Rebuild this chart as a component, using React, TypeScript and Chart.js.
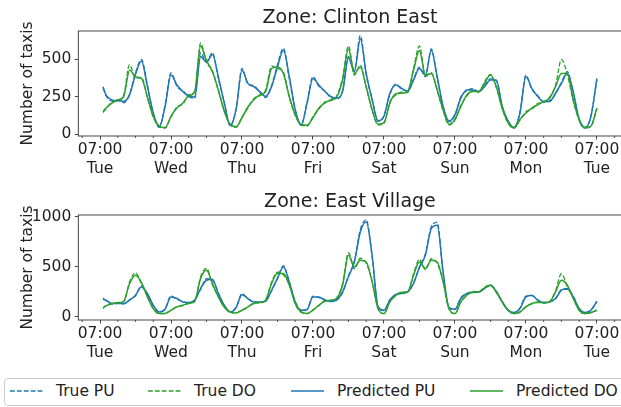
import React, { useEffect, useRef } from "react";
import { Chart, registerables } from "chart.js";

Chart.register(...registerables);

// hours after Tue 07:00
const hours = [1, 2, 4, 6, 8, 10, 12, 14, 16, 18, 20, 22, 24, 26, 28, 30, 32, 34, 36, 38, 40, 42, 44, 46, 48, 50, 52, 54, 56, 58, 60, 62, 64, 66, 68, 70, 72, 74, 76, 78, 80, 82, 84, 86, 88, 90, 92, 94, 96, 98, 100, 102, 104, 106, 108, 110, 112, 114, 116, 118, 120, 122, 124, 126, 128, 130, 132, 134, 136, 138, 140, 142, 144, 146, 148, 150, 152, 154, 156, 158, 160, 162, 164, 166, 168];

const dayLabels = ["Tue", "Wed", "Thu", "Fri", "Sat", "Sun", "Mon", "Tue"];
const majorHours = [0, 24, 48, 72, 96, 120, 144, 168];
const minorHours = [-6, 6, 12, 18, 30, 36, 42, 54, 60, 66, 78, 84, 90, 102, 108, 114, 126, 132, 138, 150, 156, 162, 174];

// Zone: Clinton East
const clintonTruePU = [310, 258, 222, 228, 210, 270, 410, 500, 330, 135, 45, 195, 410, 320, 290, 250, 240, 545, 485, 545, 370, 215, 55, 170, 440, 335, 325, 280, 245, 325, 465, 575, 370, 160, 58, 215, 385, 320, 290, 245, 236, 290, 520, 430, 660, 395, 235, 85, 125, 265, 335, 300, 292, 370, 448, 385, 570, 375, 180, 82, 125, 250, 290, 305, 280, 325, 370, 355, 180, 85, 40, 150, 395, 300, 258, 215, 224, 268, 345, 418, 275, 95, 40, 125, 365];
const clintonTrueDO = [145, 168, 215, 222, 260, 465, 375, 380, 245, 115, 52, 40, 115, 182, 200, 265, 278, 610, 480, 425, 290, 160, 62, 46, 115, 175, 238, 258, 295, 455, 440, 415, 245, 125, 62, 55, 118, 168, 215, 225, 255, 375, 590, 395, 462, 310, 160, 62, 72, 215, 262, 282, 278, 440, 590, 385, 412, 290, 158, 62, 95, 192, 255, 290, 280, 350, 400, 310, 170, 72, 40, 95, 150, 168, 205, 212, 248, 325, 500, 400, 222, 95, 40, 52, 168];
const clintonPredPU = [318, 263, 230, 223, 220, 263, 400, 489, 320, 142, 50, 186, 395, 329, 285, 256, 248, 520, 480, 533, 384, 208, 60, 164, 428, 340, 318, 285, 252, 318, 450, 559, 384, 164, 62, 208, 373, 329, 285, 252, 241, 285, 510, 420, 636, 406, 230, 90, 120, 274, 329, 307, 285, 362, 439, 395, 559, 384, 186, 88, 131, 241, 296, 296, 285, 318, 362, 362, 186, 88, 44, 142, 384, 307, 252, 219, 219, 274, 340, 406, 285, 99, 44, 120, 373];
const clintonPredDO = [153, 175, 208, 230, 252, 430, 384, 373, 252, 120, 55, 44, 120, 175, 208, 256, 285, 590, 493, 417, 296, 153, 66, 50, 110, 182, 230, 263, 285, 439, 450, 406, 252, 131, 66, 60, 110, 175, 208, 230, 248, 362, 570, 406, 450, 318, 164, 66, 77, 208, 270, 274, 285, 428, 559, 395, 406, 296, 164, 66, 99, 186, 263, 285, 285, 340, 395, 318, 175, 77, 44, 99, 142, 175, 197, 219, 241, 318, 406, 406, 230, 99, 44, 55, 175];

// Zone: East Village
const villageTruePU = [185, 160, 128, 135, 128, 170, 210, 310, 225, 110, 45, 80, 210, 175, 152, 138, 170, 275, 380, 365, 240, 110, 45, 95, 232, 178, 152, 145, 160, 258, 390, 510, 340, 152, 62, 75, 205, 192, 170, 150, 170, 240, 410, 560, 870, 970, 600, 95, 62, 172, 215, 238, 245, 340, 490, 630, 900, 945, 430, 88, 72, 190, 228, 248, 245, 290, 310, 255, 142, 62, 40, 88, 205, 210, 170, 138, 152, 178, 272, 275, 205, 78, 40, 70, 150];
const villageTrueDO = [82, 112, 128, 142, 150, 350, 440, 330, 205, 78, 30, 35, 62, 102, 112, 138, 150, 400, 485, 320, 205, 95, 45, 36, 68, 95, 138, 138, 170, 345, 445, 420, 322, 128, 45, 30, 68, 110, 160, 160, 188, 330, 640, 480, 585, 535, 355, 78, 30, 152, 210, 250, 242, 430, 575, 470, 580, 535, 355, 78, 30, 152, 210, 255, 242, 295, 320, 242, 152, 62, 30, 45, 102, 128, 148, 138, 152, 260, 430, 300, 190, 62, 30, 40, 62];
const villagePredPU = [175, 165, 132, 132, 132, 165, 215, 298, 232, 115, 48, 75, 198, 182, 148, 142, 165, 282, 365, 375, 232, 115, 48, 90, 220, 182, 148, 148, 155, 265, 382, 498, 348, 148, 65, 70, 198, 198, 165, 155, 165, 248, 400, 548, 848, 948, 615, 100, 65, 165, 222, 232, 248, 332, 498, 615, 882, 915, 448, 90, 75, 182, 232, 242, 248, 282, 315, 248, 148, 65, 42, 82, 198, 215, 165, 142, 148, 182, 265, 282, 198, 82, 42, 65, 155];
const villagePredDO = [88, 108, 132, 138, 155, 332, 415, 342, 198, 82, 32, 32, 65, 98, 115, 132, 155, 382, 465, 332, 198, 98, 48, 38, 65, 98, 132, 142, 165, 332, 432, 432, 315, 132, 48, 32, 65, 115, 155, 165, 182, 315, 615, 498, 565, 548, 348, 82, 32, 148, 215, 242, 248, 415, 548, 482, 565, 548, 348, 82, 32, 148, 215, 248, 248, 288, 315, 248, 148, 65, 32, 48, 98, 132, 142, 142, 148, 248, 365, 315, 182, 65, 32, 42, 65];

const clintonYTicks = [0, 250, 500];
const villageYTicks = [0, 500, 1000];
const seriesLabels = ["True PU", "True DO", "Predicted PU", "Predicted DO"];

const BLUE = "#1f77b4";
const GREEN = "#2ca02c";
const FONT = "'DejaVu Sans', sans-serif";
const TEXT = "#222222";
const CW = 630;
const PLOT_LEFT = 78.3;
const PLOT_RIGHT = 621.6;
const DASH = [4.8, 2.1];

const framePlugin = {
  id: "frame",
  afterDraw(chart: any) {
    const { ctx, chartArea: a } = chart;
    const xs = chart.scales.x;
    ctx.save();
    ctx.strokeStyle = "#333333";
    ctx.lineWidth = 0.9;
    ctx.strokeRect(a.left, a.top, a.right - a.left, a.bottom - a.top);
    ctx.lineWidth = 0.8;
    ctx.beginPath();
    minorHours.forEach((h) => {
      const px = xs.getPixelForValue(h);
      ctx.moveTo(px, a.bottom);
      ctx.lineTo(px, a.bottom + 2);
    });
    ctx.stroke();
    ctx.restore();
  },
};

type PanelProps = {
  title: string;
  top: number;
  height: number;
  areaTop: number;
  areaBottom: number;
  yMin: number;
  yMax: number;
  yTicks: number[];
  series: number[][];
};

function Panel({ title, top, height, areaTop, areaBottom, yMin, yMax, yTicks, series }: PanelProps) {
  const ref = useRef<HTMLCanvasElement>(null);
  useEffect(() => {
    if (!ref.current) return;
    const pts = (vals: number[]) => vals.map((v, i) => ({ x: hours[i], y: v }));
    const colors = [BLUE, GREEN, BLUE, GREEN];
    const datasets = series.map((vals, i) => ({
      label: seriesLabels[i],
      data: pts(vals),
      borderColor: colors[i],
      backgroundColor: colors[i],
      borderWidth: i < 2 ? 1.3 : 1.5,
      borderDash: i < 2 ? DASH : [],
      order: 4 - i,
      pointRadius: 0,
      fill: false,
      cubicInterpolationMode: "monotone" as const,
    }));
    const chart = new Chart(ref.current, {
      type: "line",
      data: { datasets },
      options: {
        animation: false,
        responsive: false,
        events: [],
        layout: { padding: { left: 0, right: CW - PLOT_RIGHT, top: 0, bottom: 0 } },
        plugins: {
          legend: { display: false },
          tooltip: { enabled: false },
          title: {
            display: true,
            text: title,
            fullSize: false,
            color: TEXT,
            font: { family: FONT, size: 19, weight: "normal", lineHeight: 1.2 },
            padding: { top: areaTop - 24.5, bottom: 1.7 },
          },
        },
        scales: {
          x: {
            type: "linear",
            min: -7.35,
            max: 176.35,
            border: { display: false },
            grid: { drawOnChartArea: false, drawTicks: true, tickLength: 3.5, tickColor: "#333333", tickWidth: 0.9 },
            afterBuildTicks: (s: any) => {
              s.ticks = majorHours.map((v) => ({ value: v }));
            },
            afterFit: (s: any) => {
              s.height = height - areaBottom;
            },
            ticks: {
              autoSkip: false,
              maxRotation: 0,
              minRotation: 0,
              padding: 1.7,
              color: TEXT,
              font: { family: FONT, size: 15.5, lineHeight: 1.18 },
              callback: (v: any) => {
                const idx = majorHours.indexOf(Number(v));
                return idx >= 0 ? ["07:00", dayLabels[idx]] : "";
              },
            },
          },
          y: {
            type: "linear",
            min: yMin,
            max: yMax,
            border: { display: false },
            grid: { drawOnChartArea: false, drawTicks: true, tickLength: 3.5, tickColor: "#333333", tickWidth: 0.9 },
            afterBuildTicks: (s: any) => {
              s.ticks = yTicks.map((v) => ({ value: v }));
            },
            afterFit: (s: any) => {
              s.width = PLOT_LEFT;
            },
            title: {
              display: true,
              text: "Number of taxis",
              color: TEXT,
              font: { family: FONT, size: 15.5, lineHeight: 1.2 },
              padding: { top: 18.7, bottom: 0 },
            },
            ticks: {
              padding: 3.5,
              color: TEXT,
              font: { family: FONT, size: 15.5 },
              callback: (v: any) => String(v),
            },
          },
        },
      },
      plugins: [framePlugin],
    });
    return () => chart.destroy();
  }, []);
  return (
    <canvas
      ref={ref}
      width={CW}
      height={height}
      style={{ position: "absolute", left: 0, top, width: CW, height }}
    />
  );
}

function LegendItem({ left, label, color, dashed }: { left: number; label: string; color: string; dashed: boolean }) {
  return (
    <>
      <svg
        width={34}
        height={6}
        style={{ position: "absolute", left, top: 388 }}
      >
        <line
          x1={0}
          y1={3}
          x2={33}
          y2={3}
          stroke={color}
          strokeWidth={dashed ? 1.3 : 1.5}
          strokeDasharray={dashed ? DASH.join(" ") : undefined}
        />
      </svg>
      <span
        style={{
          position: "absolute",
          left: left + 46,
          top: 381,
          height: 20,
          lineHeight: "20px",
          fontSize: 15.5,
          fontFamily: FONT,
          color: TEXT,
          whiteSpace: "nowrap",
        }}
      >
        {label}
      </span>
    </>
  );
}

export default function App() {
  return (
    <div
      style={{
        position: "fixed",
        left: 0,
        top: 0,
        width: 621,
        height: 407,
        overflow: "hidden",
        background: "#ffffff",
      }}
    >
      <Panel
        title="Zone: Clinton East"
        top={0}
        height={180}
        areaTop={31}
        areaBottom={136}
        yMin={-12}
        yMax={690}
        yTicks={clintonYTicks}
        series={[clintonTruePU, clintonTrueDO, clintonPredPU, clintonPredDO]}
      />
      <Panel
        title="Zone: East Village"
        top={180}
        height={190}
        areaTop={35}
        areaBottom={140}
        yMin={-33}
        yMax={1018}
        yTicks={villageYTicks}
        series={[villageTruePU, villageTrueDO, villagePredPU, villagePredDO]}
      />
      <div
        style={{
          position: "absolute",
          left: 4,
          top: 377.5,
          width: 640,
          height: 28.5,
          border: "1px solid #cccccc",
          borderRadius: 4,
          boxSizing: "border-box",
        }}
      />
      <LegendItem left={10} label={seriesLabels[0]} color={BLUE} dashed={true} />
      <LegendItem left={148} label={seriesLabels[1]} color={GREEN} dashed={true} />
      <LegendItem left={291} label={seriesLabels[2]} color={BLUE} dashed={false} />
      <LegendItem left={470} label={seriesLabels[3]} color={GREEN} dashed={false} />
    </div>
  );
}
